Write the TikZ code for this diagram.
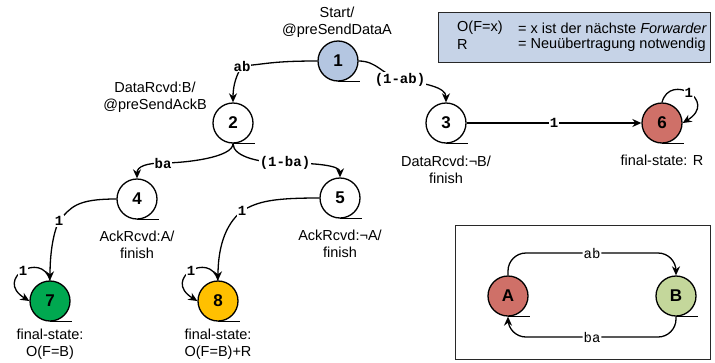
\documentclass[tikz,border=0pt]{standalone}
\usepackage{fontspec}
\setmainfont{Liberation Sans}
\setmonofont{Liberation Mono}
\usepackage{xcolor}
\usepackage{tikz}
\usetikzlibrary{arrows.meta}
\definecolor{stateBlue}{RGB}{180,198,225}
\definecolor{legendBlue}{RGB}{198,211,231}
\definecolor{stateRed}{RGB}{207,112,104}
\definecolor{stateGreen}{RGB}{0,168,80}
\definecolor{stateYellow}{RGB}{255,192,0}
\definecolor{stateLime}{RGB}{196,215,155}
\definecolor{frameGray}{RGB}{40,40,40}

\begin{document}
\begin{tikzpicture}[x=1pt,y=-1pt,
  state/.style={circle,draw,line width=1.3pt,minimum size=40pt,inner sep=0pt,font=\fontsize{17}{17}\selectfont\bfseries},
  edge/.style={line width=1.3pt,-{Stealth[length=9pt,width=8pt]}},
  elab/.style={fill=white,inner sep=1pt,font=\fontsize{14}{14}\selectfont\ttfamily\bfseries},
  elabthin/.style={fill=white,inner sep=1pt,font=\fontsize{14}{14}\selectfont\ttfamily},
  desc/.style={align=center,inner sep=0pt,font=\fontsize{14.5}{17}\selectfont},
  tail/.style={line width=1.3pt}]
\useasboundingbox (0,0) rectangle (715,362);

\node[draw=frameGray,line width=1.2pt,fill=legendBlue,minimum width=272pt,minimum height=50pt,anchor=north west] (legend) at (438,12) {};
\node[desc,anchor=west] (legO) at (457,28) {O(F=x)};
\node[desc,anchor=west] (legOtxt) at (518,28) {= x ist der nächste \textit{Forwarder}};
\node[desc,anchor=west] (legR) at (457,45) {R};
\node[desc,anchor=west] (legRtxt) at (518,45) {= Neuübertragung notwendig};

\node[draw=frameGray,line width=1pt,minimum width=255pt,minimum height=134pt,anchor=north west] (frame) at (455,225) {};

\node[state,fill=stateBlue] (n1) at (338,61) {1};
\node[state] (n2) at (233,123) {2};
\node[state] (n3) at (446,123) {3};
\node[state] (n4) at (137,199) {4};
\node[state] (n5) at (340,198) {5};
\node[state,fill=stateRed] (n6) at (662,123) {6};
\node[state,fill=stateGreen] (n7) at (50,301) {7};
\node[state,fill=stateYellow] (n8) at (218,301) {8};
\node[state,fill=stateRed] (nA) at (508,296) {A};
\node[state,fill=stateLime] (nB) at (676,296) {B};

\draw[tail] (n1.south) -- ++(22,0);
\draw[tail] (n2.south) -- ++(22,0);
\draw[tail] (n3.south) -- ++(22,0);
\draw[tail] (n4.south) -- ++(22,0);
\draw[tail] (n5.south) -- ++(22,0);
\draw[tail] (n6.south) -- ++(22,0);
\draw[tail] (n7.south) -- ++(22,0);
\draw[tail] (n8.south) -- ++(22,0);
\draw[tail] (nA.south) -- ++(22,0);
\draw[tail] (nB.south) -- ++(22,0);

\node[desc] (l1) at (337,22) {Start/\\@preSendDataA};
\node[desc] (l2) at (155,97) {DataRcvd:B/\\@preSendAckB};
\node[desc] (l3) at (446,170) {DataRcvd:¬B/\\finish};
\node[desc] (l4) at (137,245) {AckRcvd:A/\\finish};
\node[desc] (l5) at (340,244) {AckRcvd:¬A/\\finish};
\node[desc] (l6) at (662,160) {final-state: R};
\node[desc] (l7) at (50,344) {final-state:\\O(F=B)};
\node[desc] (l8) at (218,344) {final-state:\\O(F=B)+R};

\coordinate (k12) at (242,66);
\coordinate (k13) at (400,80);
\coordinate (k24) at (163,163);
\coordinate (k25) at (285,163);
\coordinate (k47) at (59,221);
\coordinate (k58) at (242,211);
\coordinate (kAB) at (592,253);
\coordinate (kBA) at (592,337);

\draw[edge] (n1.west) .. controls +(-45,0) and +(25,-2) .. (k12) node[elab]{ab} .. controls +(-5,8) and +(0,-18) .. (n2.north);
\draw[edge] (n1.east) .. controls +(18,0) and +(-18,-6) .. (k13) node[elab]{(1-ab)} .. controls +(25,3) and +(0,-15) .. (n3.north);
\draw[edge] (n3) -- node[elab]{1} (n6);
\draw[edge] (n6.north) .. controls +(8,-30) and +(36,-22) .. node[elab,pos=0.5]{1} (n6.east);
\draw[edge] (n2.south) .. controls +(0,14) and +(22,0) .. (k24) node[elab]{ba} .. controls +(-16,0) and +(0,-12) .. (n4.north);
\draw[edge] (n2.south) .. controls +(0,14) and +(-22,0) .. (k25) node[elab]{(1-ba)} .. controls +(30,0) and +(0,-12) .. (n5.north);
\draw[edge] (n4.west) .. controls +(-40,0) and +(12,-14) .. (k47) node[elab]{1} .. controls +(-5,10) and +(0,-30) .. (n7.north);
\draw[edge] (n5.west) .. controls +(-45,0) and +(16,-10) .. (k58) node[elab]{1} .. controls +(-18,14) and +(0,-30) .. (n8.north);
\draw[edge] (n7.north) .. controls +(-8,-30) and +(-36,-22) .. node[elab,pos=0.5]{1} (n7.west);
\draw[edge] (n8.north) .. controls +(-8,-30) and +(-36,-22) .. node[elab,pos=0.5]{1} (n8.west);

\draw[edge,rounded corners=18pt] (nA.north) |- (kAB) node[elabthin]{ab} -| (nB.north);
\draw[edge,rounded corners=18pt] (nB.south) |- (kBA) node[elabthin]{ba} -| (nA.south);
\end{tikzpicture}
\end{document}
